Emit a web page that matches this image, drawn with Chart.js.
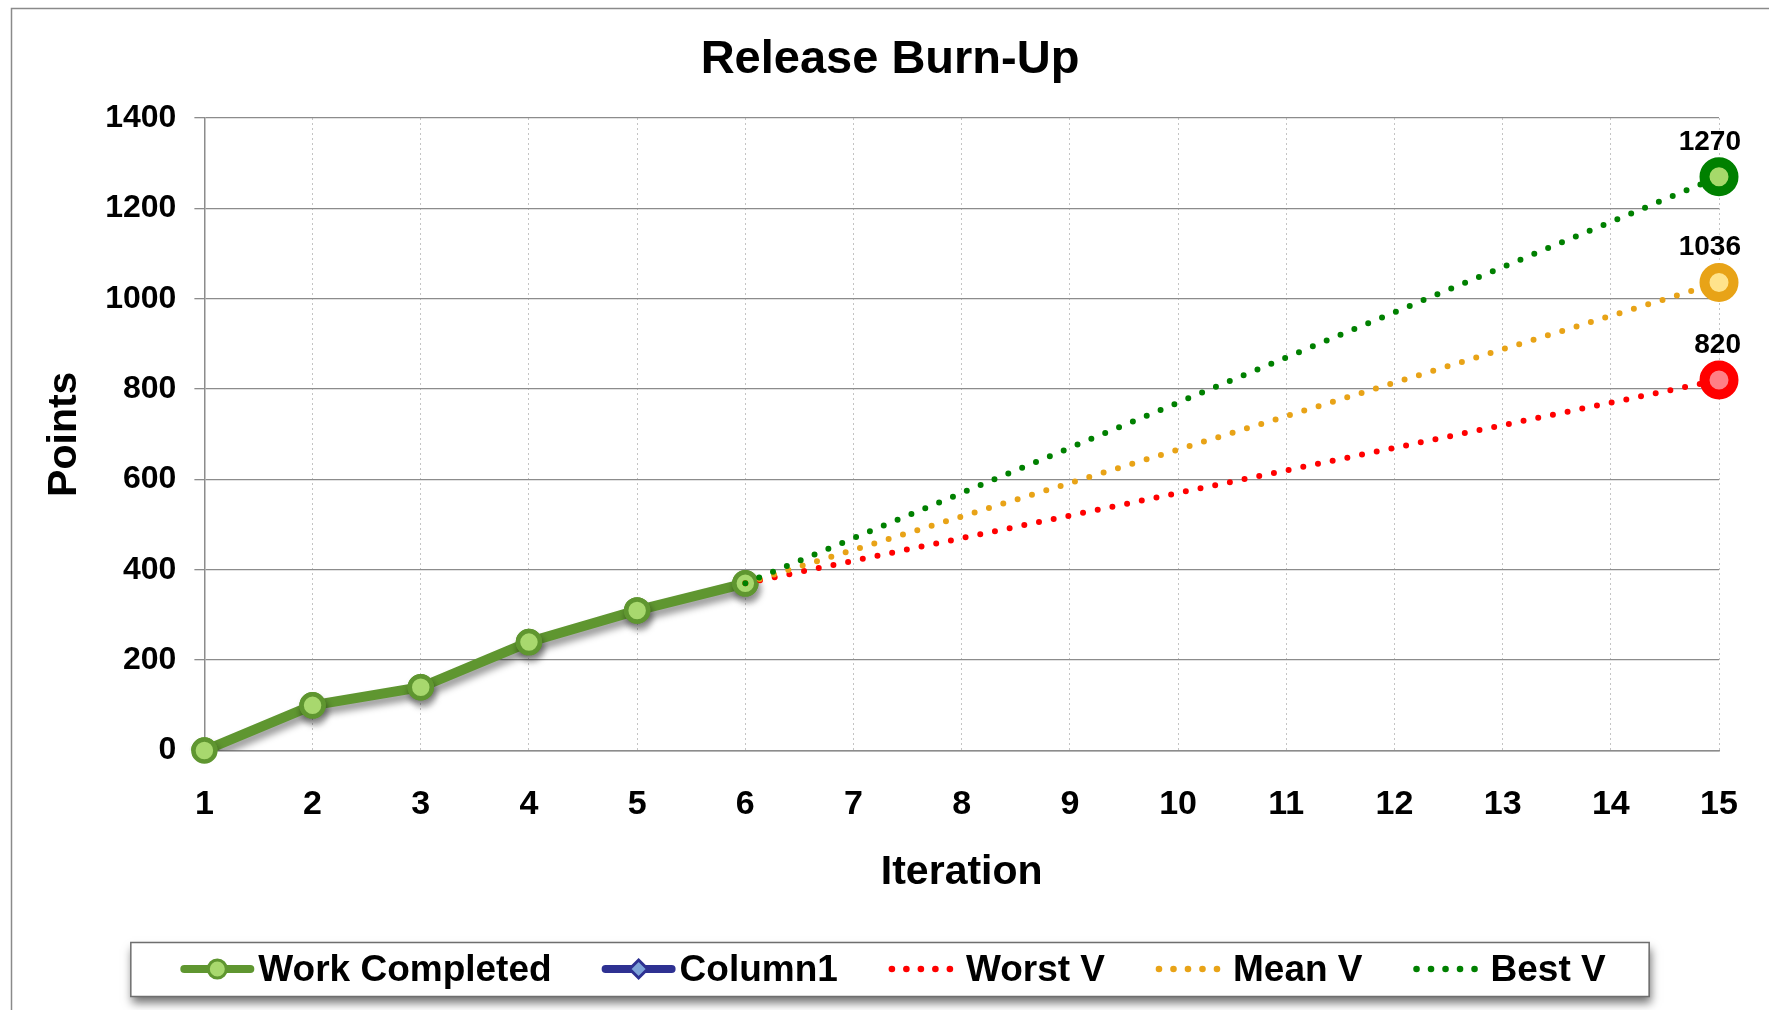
<!DOCTYPE html>
<html>
<head>
<meta charset="utf-8">
<script src="https://cdn.jsdelivr.net/npm/chart.js@4.4.0/dist/chart.umd.min.js"></script>
<style>
  html, body { margin: 0; padding: 0; background: #fff; }
  #wrap { width: 1769px; height: 1010px; position: relative; }
</style>
</head>
<body>
<div id="wrap"><canvas id="burnup"></canvas></div>
<script>
const FONT = '"Liberation Sans", Arial, sans-serif';

const iterations = ['1', '2', '3', '4', '5', '6', '7', '8', '9', '10', '11', '12', '13', '14', '15'];
const workCompleted = [0, 100, 140, 240, 310, 370, null, null, null, null, null, null, null, null, null];
const column1 = [null, null, null, null, null, null, null, null, null, null, null, null, null, null, null];
const worstV = [null, null, null, null, null, 370, null, null, null, null, null, null, null, null, 820];
const meanV = [null, null, null, null, null, 370, null, null, null, null, null, null, null, null, 1036];
const bestV = [null, null, null, null, null, 370, null, null, null, null, null, null, null, null, 1270];
const yTicks = [0, 200, 400, 600, 800, 1000, 1200, 1400];

const lastIdx = iterations.length - 1;
const endOnly = r => c => (c.dataIndex === lastIdx ? r : 0);

function projection(label, data, line, fill, order) {
    return {
        label: label,
        data: data,
        borderColor: line,
        borderWidth: 6,
        borderDash: [0, 15],
        borderCapStyle: 'round',
        spanGaps: true,
        tension: 0,
        pointRadius: endOnly(14.5),
        pointHoverRadius: endOnly(14.5),
        pointBorderWidth: 10,
        pointBackgroundColor: fill,
        pointBorderColor: line,
        endLabel: true,
        order: order
    };
}

// frame, title, shadow on the work line, end labels and the boxed legend
const decor = {
    id: 'decor',
    beforeDraw(chart) {
        const c = chart.ctx;
        c.save();
        c.strokeStyle = '#8a8a8a';
        c.lineWidth = 1.5;
        c.beginPath();
        c.moveTo(11.5, chart.height + 5);
        c.lineTo(11.5, 8.5);
        c.lineTo(chart.width + 5, 8.5);
        c.stroke();
        c.fillStyle = '#000';
        c.font = 'bold 47px ' + FONT;
        c.textAlign = 'center';
        c.textBaseline = 'alphabetic';
        c.fillText('Release Burn-Up', 890, 73);
        c.restore();
    },
    beforeDatasetDraw(chart, args) {
        const c = chart.ctx;
        c.save();
        if (args.index === 0) {
            c.shadowColor = 'rgba(0,0,0,0.4)';
            c.shadowBlur = 7;
            c.shadowOffsetX = 2;
            c.shadowOffsetY = 6;
        }
    },
    afterDatasetDraw(chart, args) {
        chart.ctx.restore();
        if (args.index === 0) {
            // points again without shadow so the ring shadow does not darken the fill
            args.meta.data.forEach(p => p.draw(chart.ctx, chart.chartArea));
        }
    },
    afterDatasetsDraw(chart) {
        const c = chart.ctx;
        c.save();
        c.fillStyle = '#000';
        c.font = 'bold 28px ' + FONT;
        c.textAlign = 'right';
        c.textBaseline = 'alphabetic';
        chart.data.datasets.forEach((ds, i) => {
            if (!ds.endLabel) return;
            const pt = chart.getDatasetMeta(i).data[lastIdx];
            c.fillText(String(ds.data[lastIdx]), pt.x + 22, pt.y - 27);
        });
        c.restore();
    },
    afterDraw(chart) {
        const c = chart.ctx;
        const sets = chart.data.datasets;
        const iconW = 74, gap = 4, spacing = 50;
        c.save();
        c.font = 'bold 37px ' + FONT;
        const widths = sets.map(ds => c.measureText(ds.label).width);
        let total = spacing * (sets.length - 1);
        widths.forEach(w => { total += iconW + gap + w; });
        const startX = 893 - total / 2;
        const boxL = startX - 50, boxR = startX + total + 43, boxT = 942, boxB = 996;

        c.shadowColor = 'rgba(0,0,0,0.55)';
        c.shadowBlur = 9;
        c.shadowOffsetX = 2;
        c.shadowOffsetY = 7;
        c.fillStyle = '#fff';
        c.fillRect(boxL, boxT, boxR - boxL, boxB - boxT);
        c.shadowColor = 'transparent';
        c.strokeStyle = '#6e6e6e';
        c.lineWidth = 1.5;
        c.strokeRect(boxL + 0.5, boxT + 0.5, boxR - boxL, boxB - boxT);

        const cy = 969;
        let x = startX;
        sets.forEach((ds, i) => {
            if (ds.borderDash && ds.borderDash.length) {
                c.fillStyle = ds.borderColor;
                for (let k = 0; k < 5; k++) {
                    c.beginPath();
                    c.arc(x + 4 + k * 14.5, cy, 3.3, 0, Math.PI * 2);
                    c.fill();
                }
            } else {
                c.strokeStyle = ds.borderColor;
                c.lineWidth = 8;
                c.lineCap = 'round';
                c.beginPath();
                c.moveTo(x + 4, cy);
                c.lineTo(x + iconW - 4, cy);
                c.stroke();
                c.lineWidth = 3;
                c.fillStyle = ds.pointBackgroundColor;
                c.strokeStyle = ds.pointBorderColor;
                const mx = x + iconW / 2;
                c.beginPath();
                if (ds.pointStyle === 'rectRot') {
                    c.moveTo(mx, cy - 9);
                    c.lineTo(mx + 9, cy);
                    c.lineTo(mx, cy + 9);
                    c.lineTo(mx - 9, cy);
                    c.closePath();
                } else {
                    c.arc(mx, cy, 9, 0, Math.PI * 2);
                }
                c.fill();
                c.stroke();
            }
            c.fillStyle = '#000';
            c.textAlign = 'left';
            c.textBaseline = 'alphabetic';
            c.fillText(ds.label, x + iconW + gap, cy + 12);
            x += iconW + gap + widths[i] + spacing;
        });
        c.restore();
    }
};

const ctx = document.getElementById('burnup').getContext('2d');
const chart = new Chart(ctx, {
    type: 'line',
    data: {
        labels: iterations,
        datasets: [
            {
                label: 'Work Completed',
                data: workCompleted,
                borderColor: '#5F9630',
                borderWidth: 10,
                tension: 0,
                pointRadius: 11,
                pointHoverRadius: 11,
                pointBorderWidth: 4.5,
                pointBackgroundColor: '#A8D86E',
                pointBorderColor: '#5F9630',
                order: 5
            },
            {
                label: 'Column1',
                data: column1,
                borderColor: '#2E3192',
                borderWidth: 8,
                pointStyle: 'rectRot',
                pointBackgroundColor: '#7DA3D8',
                pointBorderColor: '#2E3192',
                order: 4
            },
            projection('Worst V', worstV, '#FF0000', '#FF7F86', 2),
            projection('Mean V', meanV, '#E8A317', '#FFE38C', 1),
            projection('Best V', bestV, '#008000', '#A6D96A', 0)
        ]
    },
    options: {
        responsive: true,
        maintainAspectRatio: false,
        animation: false,
        layout: {
            padding: { top: 118, left: 20, right: 50, bottom: 113 }
        },
        scales: {
            x: {
                grid: {
                    color: '#c4c4c4',
                    tickColor: 'transparent',
                    tickLength: 30
                },
                border: {
                    color: '#8c8c8c',
                    width: 1.5,
                    dash: [2, 3]
                },
                ticks: {
                    color: '#000',
                    padding: 4,
                    font: { family: FONT, size: 34, weight: 'bold' }
                },
                title: {
                    display: true,
                    text: 'Iteration',
                    color: '#000',
                    padding: { top: 18.5, bottom: 0 },
                    font: { family: FONT, size: 41, weight: 'bold' }
                }
            },
            y: {
                min: 0,
                max: 1400,
                afterBuildTicks: axis => {
                    axis.ticks = yTicks.map(v => ({ value: v }));
                },
                grid: {
                    color: '#8c8c8c',
                    lineWidth: 1.3,
                    tickLength: 10
                },
                border: {
                    color: '#8c8c8c',
                    width: 1.5
                },
                ticks: {
                    color: '#000',
                    padding: 18,
                    callback: v => String(v),
                    font: { family: FONT, size: 32, weight: 'bold' }
                },
                title: {
                    display: true,
                    text: 'Points',
                    color: '#000',
                    padding: { top: 20, bottom: -2 },
                    font: { family: FONT, size: 41, weight: 'bold' }
                }
            }
        },
        plugins: {
            legend: { display: false },
            title: { display: false },
            tooltip: { enabled: false }
        }
    },
    plugins: [decor]
});
</script>
</body>
</html>
